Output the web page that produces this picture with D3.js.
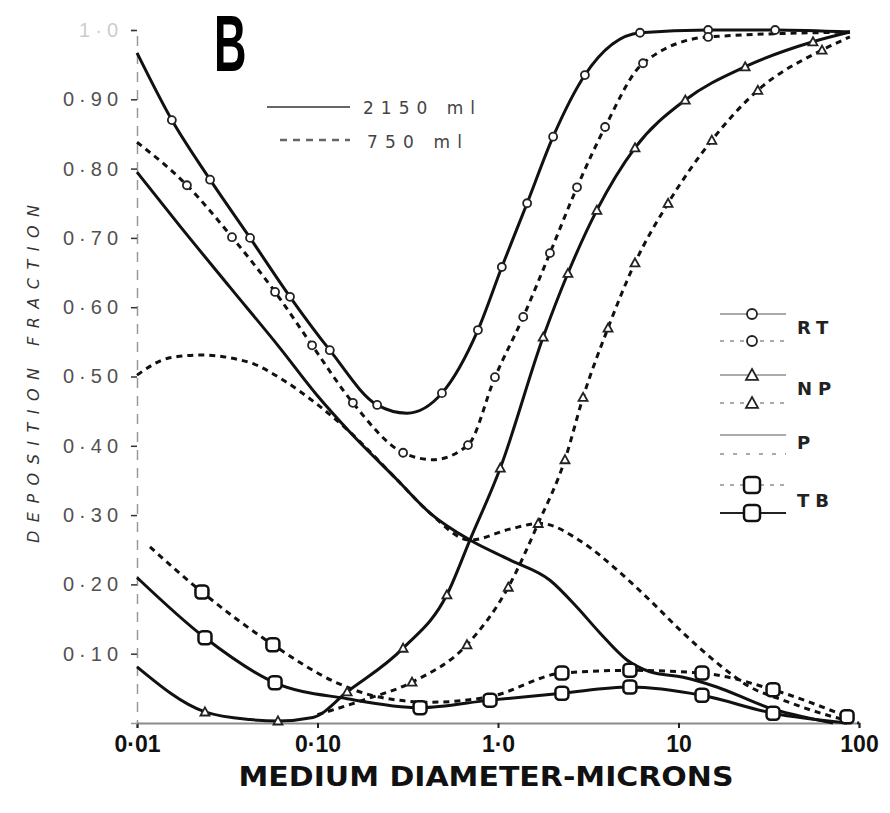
<!DOCTYPE html>
<html>
<head>
<meta charset="utf-8">
<script src="https://cdn.jsdelivr.net/npm/d3@7"></script>
<style>
body { margin: 0; background: #fff; }
</style>
</head>
<body>
<div id="chart"></div>
<script>
// Values: [median diameter (microns), deposition fraction, marker drawn?]
var rt2150 = [[0.01,0.967,0],[0.0156,0.870,1],[0.0254,0.784,1],[0.0423,0.700,1],[0.0704,0.615,1],
	[0.117,0.538,1],[0.214,0.459,1],[0.313,0.447,0],[0.489,0.476,1],[0.774,0.567,1],[1.05,0.658,1],
	[1.45,0.750,1],[2.02,0.846,1],[3.03,0.935,1],[6.12,0.996,1],[14.6,1.0,1],[34.3,1.0,1],[89,0.997,0]];
var rt750 = [[0.01,0.838,0],[0.0189,0.776,1],[0.0336,0.701,1],[0.0582,0.622,1],[0.0933,0.545,1],
	[0.157,0.462,1],[0.298,0.390,1],[0.436,0.380,0],[0.682,0.401,1],[0.962,0.499,1],[1.38,0.586,1],
	[1.94,0.678,1],[2.74,0.773,1],[3.92,0.860,1],[6.36,0.952,1],[14.6,0.99,1],[89,0.997,0]];
var np2150 = [[0.01,0.081,0],[0.0238,0.016,1],[0.0423,0.005,0],[0.0604,0.003,1],[0.0944,0.008,0],
	[0.146,0.045,1],[0.298,0.108,1],[0.521,0.185,1],[0.699,0.264,0],[1.03,0.368,1],[1.78,0.557,1],
	[2.44,0.649,1],[3.53,0.740,1],[5.74,0.830,1],[10.9,0.899,1],[23.4,0.947,1],[55.6,0.983,1],[89,0.997,0]];
var np750 = [[0.1,0.012,0],[0.179,0.033,0],[0.334,0.059,1],[0.673,0.113,1],[1.14,0.196,1],[1.67,0.288,1],
	[2.35,0.380,1],[2.96,0.470,1],[4.07,0.570,1],[5.74,0.664,1],[8.75,0.750,1],[15.3,0.841,1],
	[27.5,0.913,1],[62.4,0.971,1],[89,0.99,0]];
var p2150 = [[0.01,0.795],[0.0173,0.717],[0.0327,0.629],[0.062,0.541],[0.0994,0.473],[0.151,0.42],
	[0.276,0.351],[0.42,0.303],[0.699,0.264],[1.17,0.235],[1.94,0.206],[2.74,0.167],[3.67,0.130],
	[5.18,0.091],[6.95,0.074],[10.6,0.066],[16.3,0.052],[30.9,0.023],[71.8,0.0]];
var p750 = [[0.01,0.502],[0.0152,0.527],[0.0223,0.531],[0.0423,0.52],[0.0644,0.495],[0.0994,0.46],
	[0.151,0.42],[0.276,0.351],[0.42,0.303],[0.699,0.264],[1.17,0.28],[1.71,0.288],[2.96,0.26],
	[4.56,0.221],[6.95,0.177],[10.6,0.130],[16.3,0.087],[24.9,0.052],[37.9,0.033],[71.8,0.009],[100,0.0]];
var tb2150 = [[0.01,0.21,0],[0.0238,0.123,1],[0.0582,0.058,1],[0.146,0.035,0],[0.37,0.022,1],
	[0.903,0.033,1],[2.26,0.043,1],[5.38,0.052,1],[13.5,0.040,1],[33.4,0.014,1],[85.9,0.0,0]];
var tb750 = [[0.0118,0.254,0],[0.0229,0.189,1],[0.0566,0.113,1],[0.128,0.058,0],[0.214,0.038,0],
	[0.42,0.03,0],[0.903,0.038,0],[2.26,0.072,1],[5.38,0.076,1],[13.5,0.072,1],[33.4,0.048,1],[85.9,0.009,1]];

var xTicks = [0.01, 0.1, 1, 10, 100];
var xTickLabels = ["0·01", "0·10", "1·0", "10", "100"];
var yTicks = [0.1, 0.2, 0.3, 0.4, 0.5, 0.6, 0.7, 0.8, 0.9, 1.0];
var yTickLabels = ["0·10", "0·20", "0·30", "0·40", "0·50", "0·60", "0·70", "0·80", "0·90", "1·0"];
var volumeLabels = ["2150 ml", "750 ml"];
var regionLabels = ["R T", "N P", "P", "T B"];

var chartConfig = {
	width : 890,
	height : 813,
	left : 137,
	right : 859,
	top : 30,
	bottom : 723
};

var svg = d3.select("#chart").append("svg")
	.attr("width", chartConfig.width)
	.attr("height", chartConfig.height)
	.style("font-family", "'DejaVu Sans', sans-serif");

var x = d3.scaleLog().domain([0.01, 100]).range([chartConfig.left, chartConfig.right]);
var y = d3.scaleLinear().domain([0, 1]).range([chartConfig.bottom, chartConfig.top]);

// x axis
var xAxis = svg.append("g")
	.attr("transform", "translate(0," + chartConfig.bottom + ")")
	.call(d3.axisBottom(x).tickValues(xTicks).tickFormat(function(d, i){ return xTickLabels[i]; }).tickSize(5));
xAxis.select(".domain").attr("stroke", "#8a8a8a").attr("stroke-width", 2);
xAxis.selectAll(".tick line").attr("stroke", "#222").attr("stroke-width", 2);
xAxis.selectAll(".tick text")
	.attr("y", 13)
	.attr("fill", "#111")
	.style("font-size", "23px")
	.style("font-weight", "bold");

// y axis
var yAxis = svg.append("g")
	.attr("transform", "translate(" + chartConfig.left + ",0)")
	.call(d3.axisLeft(y).tickValues(yTicks).tickFormat(function(d, i){ return yTickLabels[i]; }).tickSize(6).tickPadding(8));
yAxis.select(".domain").attr("stroke", "#999").attr("stroke-width", 1.5).attr("stroke-dasharray", "10,8");
yAxis.selectAll(".tick line").attr("stroke", "#333").attr("stroke-width", 1.5);
yAxis.selectAll(".tick text")
	.attr("fill", "#333")
	.style("font-size", "20px")
	.style("letter-spacing", "5px")
	.attr("opacity", function(d){ return d === 1.0 ? 0.25 : 0.85; });

// axis titles
svg.append("text")
	.attr("x", 486).attr("y", 786)
	.attr("text-anchor", "middle")
	.attr("textLength", 495).attr("lengthAdjust", "spacingAndGlyphs")
	.style("font-size", "27px").style("font-weight", "bold")
	.attr("fill", "#111")
	.text("MEDIUM DIAMETER-MICRONS");

svg.append("text")
	.attr("transform", "translate(39,374) rotate(-90)")
	.attr("text-anchor", "middle")
	.attr("textLength", 338).attr("lengthAdjust", "spacing")
	.style("font-size", "16px").style("font-style", "italic")
	.attr("fill", "#333")
	.text("DEPOSITION FRACTION");

// panel letter
svg.append("text")
	.attr("transform", "translate(214,71) scale(0.57,1)")
	.style("font-family", "'Liberation Sans', Arial, sans-serif")
	.style("font-size", "79px").style("font-weight", "bold")
	.attr("fill", "#000")
	.text("B");

// curves
var line = d3.line()
	.x(function(d){ return x(d[0]); })
	.y(function(d){ return y(d[1]); })
	.curve(d3.curveMonotoneX);

var series = [
	{data: p2150, dash: null, mark: null},
	{data: p750, dash: "6,5", mark: null},
	{data: tb2150, dash: null, mark: "square"},
	{data: tb750, dash: "6,5", mark: "square"},
	{data: np2150, dash: null, mark: "triangle"},
	{data: np750, dash: "6,5", mark: "triangle"},
	{data: rt2150, dash: null, mark: "circle"},
	{data: rt750, dash: "6,5", mark: "circle"}
];

series.forEach(function(s){
	svg.append("path")
		.datum(s.data)
		.attr("d", line)
		.attr("fill", "none")
		.attr("stroke", "#111")
		.attr("stroke-width", 3)
		.attr("stroke-dasharray", s.dash);
});

function drawMarker(g, kind, cx, cy, big) {
	if (kind === "circle") {
		g.append("circle").attr("cx", cx).attr("cy", cy).attr("r", big ? 5 : 4)
			.attr("fill", "#fff").attr("stroke", "#222").attr("stroke-width", 1.8);
	} else if (kind === "triangle") {
		var s = big ? 6 : 4.5;
		g.append("path")
			.attr("d", "M" + cx + "," + (cy - s) + "L" + (cx + s) + "," + (cy + s * 0.8) + "L" + (cx - s) + "," + (cy + s * 0.8) + "Z")
			.attr("fill", "#fff").attr("stroke", "#222").attr("stroke-width", 1.8);
	} else if (kind === "square") {
		var h = big ? 8 : 6.5;
		g.append("rect").attr("x", cx - h).attr("y", cy - h).attr("width", 2 * h).attr("height", 2 * h)
			.attr("rx", 4).attr("fill", "#fff").attr("stroke", "#111").attr("stroke-width", 2.5);
	}
}

var markerLayer = svg.append("g");
series.forEach(function(s){
	if (!s.mark) return;
	s.data.filter(function(d){ return d[2]; }).forEach(function(d){
		drawMarker(markerLayer, s.mark, x(d[0]), y(d[1]), false);
	});
});

// volume legend (top)
var volLegend = svg.append("g");
volLegend.append("line").attr("x1", 267).attr("x2", 350).attr("y1", 107).attr("y2", 107)
	.attr("stroke", "#666").attr("stroke-width", 2);
volLegend.append("line").attr("x1", 280).attr("x2", 350).attr("y1", 140).attr("y2", 140)
	.attr("stroke", "#666").attr("stroke-width", 2.5).attr("stroke-dasharray", "7,6");
volLegend.selectAll("text").data(volumeLabels).enter().append("text")
	.attr("x", function(d, i){ return i ? 367 : 363; })
	.attr("y", function(d, i){ return i ? 148 : 114; })
	.attr("textLength", function(d, i){ return i ? 95 : 112; })
	.attr("lengthAdjust", "spacing")
	.style("font-size", "17px")
	.attr("fill", "#444")
	.text(function(d){ return d; });

// region legend (right)
var legendRows = [
	{row: 314, dash: null, mark: "circle"}, {row: 341, dash: "4,6", mark: "circle"},
	{row: 375, dash: null, mark: "triangle"}, {row: 403, dash: "4,6", mark: "triangle"},
	{row: 435, dash: null, mark: null}, {row: 454, dash: "4,9", mark: null},
	{row: 485, dash: "4,6", mark: "square"}, {row: 513, dash: null, mark: "square"}
];
var regionTextY = [334, 395, 449, 507];
var legend = svg.append("g");
legendRows.forEach(function(r, i){
	legend.append("line").attr("x1", 720).attr("x2", 786).attr("y1", r.row).attr("y2", r.row)
		.attr("stroke", i === 7 ? "#222" : "#aaa").attr("stroke-width", 2).attr("stroke-dasharray", r.dash);
	if (r.mark) drawMarker(legend, r.mark, 752, r.row, true);
});
legend.selectAll("text").data(regionLabels).enter().append("text")
	.attr("x", 797)
	.attr("y", function(d, i){ return regionTextY[i]; })
	.style("font-size", "18px").style("font-weight", "bold")
	.style("letter-spacing", "6px")
	.attr("fill", "#222")
	.text(function(d){ return d.replace(" ", ""); });
</script>
</body>
</html>
